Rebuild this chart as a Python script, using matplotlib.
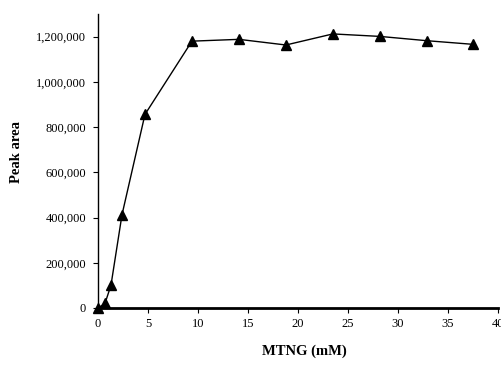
from matplotlib import pyplot as plt
from matplotlib.ticker import FuncFormatter

# MTNG concentration (mM) and measured peak area
mtng = [0, 0.7, 1.3, 2.4, 4.7, 9.4, 14.1, 18.8, 23.5, 28.2, 32.9, 37.5]
peak_area = [0, 20000, 101000, 412000, 856000, 1180000, 1188000, 1163000,
             1212000, 1201000, 1182000, 1166000]

plt.rcParams['font.family'] = ['Liberation Serif', 'DejaVu Serif']

fig = plt.figure(figsize=(5.01, 3.67), dpi=100)
ax = fig.add_axes([0.1956, 0.1608, 0.798, 0.801])

ax.plot(mtng, peak_area, color="black", linewidth=1.0, marker="^",
        markersize=7.2, markerfacecolor="black", markeredgecolor="black",
        clip_on=False, zorder=3)

ax.set_xlim(0, 40)
ax.set_ylim(0, 1300000)
ax.set_xticks(range(0, 41, 5))
ax.set_yticks(range(0, 1200001, 200000))
ax.yaxis.set_major_formatter(FuncFormatter(lambda v, p: "{:,}".format(int(v))))

ax.spines["top"].set_visible(False)
ax.spines["right"].set_visible(False)
ax.spines["left"].set_linewidth(1.0)
ax.spines["bottom"].set_linewidth(2.0)
ax.tick_params(axis="both", labelsize=9, length=3.5, width=0.8, direction="out")
ax.tick_params(axis="y", pad=5)
ax.tick_params(axis="x", pad=4)

ax.set_xlabel("MTNG (mM)", fontsize=10.5, fontweight="bold", va="center")
ax.set_ylabel("Peak area", fontsize=10.5, fontweight="bold", va="center")
ax.xaxis.set_label_coords(0.516, -0.146)
ax.yaxis.set_label_coords(-0.205, 0.529)

plt.savefig("out.png", dpi=100)
